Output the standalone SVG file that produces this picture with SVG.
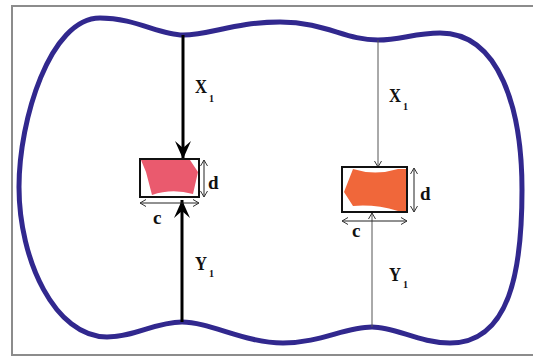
<svg xmlns="http://www.w3.org/2000/svg" width="533" height="361" viewBox="0 0 533 361">
<defs>
<style>
.frame{fill:#fff;stroke:#8c8c8c;stroke-width:2}
.blob{fill:none;stroke:#31288e;stroke-width:5;stroke-linejoin:round}
.thick{stroke:#000;stroke-width:3;fill:none}
.thin{stroke:#555;stroke-width:1;fill:none}
.dim{stroke:#222;stroke-width:1;fill:none}
.box{fill:none;stroke:#111;stroke-width:2}
.lbl{font-family:"Liberation Serif","Times New Roman",serif;font-size:19px;font-weight:bold;fill:#111}
.sub{font-family:"Liberation Serif","Times New Roman",serif;font-size:10px;font-weight:bold;fill:#111}
</style>
<marker id="bigHead" viewBox="-20 -10 22 20" refX="0" refY="0" markerWidth="22" markerHeight="20" markerUnits="userSpaceOnUse" orient="auto-start-reverse">
<path d="M0,0 L-18,-8 L-11,0 L-18,8 Z" fill="#000"/>
</marker>
<marker id="smallHead" viewBox="-8 -5 9 10" refX="0" refY="0" markerWidth="9" markerHeight="10" markerUnits="userSpaceOnUse" orient="auto-start-reverse">
<path d="M-6,-3.5 L0,0 L-6,3.5" fill="none" stroke="#333" stroke-width="1"/>
</marker>
</defs>
<rect class="frame" x="12" y="6" width="530" height="349"/>
<path class="blob" d="M19,187 C19,120 50,18 100,18 C135,18 160,35 183,35 C210,35 235,22 280,22 C325,22 345,40 378,40 C400,40 415,33 440,33 C500,33 522,110 522,190 C522,270 510,343 450,343 C420,343 395,327 372,327 C345,327 320,343 283,343 C245,343 210,322 182,322 C155,322 135,337 107,337 C55,337 19,260 19,187 Z"/>
<g id="connectors">
<line class="thick" x1="183" y1="35" x2="183" y2="159" marker-end="url(#bigHead)"/>
<line class="thick" x1="182" y1="322" x2="182" y2="200" marker-end="url(#bigHead)"/>
<line class="thin" x1="378" y1="40" x2="378" y2="167" marker-end="url(#smallHead)"/>
<line class="thin" x1="372" y1="327" x2="372" y2="213" marker-end="url(#smallHead)"/>
</g>
<g id="block-left">
<path d="M141,160 L190,160 L198,172 L193,194 Q172,188 152,195 L146,172 Z" fill="#ea5a6e"/>
<rect class="box" x="140" y="159" width="59" height="38"/>
<line class="dim" x1="204" y1="160" x2="204" y2="197" marker-start="url(#smallHead)" marker-end="url(#smallHead)"/>
<line class="dim" x1="140" y1="203" x2="199" y2="203" marker-start="url(#smallHead)" marker-end="url(#smallHead)"/>
<text class="lbl" x="208" y="189">d</text>
<text class="lbl" x="153" y="224">c</text>
</g>
<g id="block-right">
<path d="M353,169 Q375,176 398,169 L406,169 L406,211 L398,211 Q375,204 353,206 L344,192 Z" fill="#f0673a"/>
<rect class="box" x="342" y="167" width="65" height="45"/>
<line class="dim" x1="414" y1="168" x2="414" y2="212" marker-start="url(#smallHead)" marker-end="url(#smallHead)"/>
<line class="dim" x1="342" y1="221" x2="407" y2="221" marker-start="url(#smallHead)" marker-end="url(#smallHead)"/>
<text class="lbl" x="420" y="200">d</text>
<text class="lbl" x="352" y="237">c</text>
</g>
<g id="labels">
<text class="lbl" x="195" y="93" textLength="12" lengthAdjust="spacingAndGlyphs">X</text>
<text class="sub" x="209" y="102">1</text>
<text class="lbl" x="195" y="270" textLength="12" lengthAdjust="spacingAndGlyphs">Y</text>
<text class="sub" x="209" y="277">1</text>
<text class="lbl" x="389" y="102" textLength="12" lengthAdjust="spacingAndGlyphs">X</text>
<text class="sub" x="403" y="110">1</text>
<text class="lbl" x="389" y="281" textLength="12" lengthAdjust="spacingAndGlyphs">Y</text>
<text class="sub" x="403" y="288">1</text>
</g>
</svg>
